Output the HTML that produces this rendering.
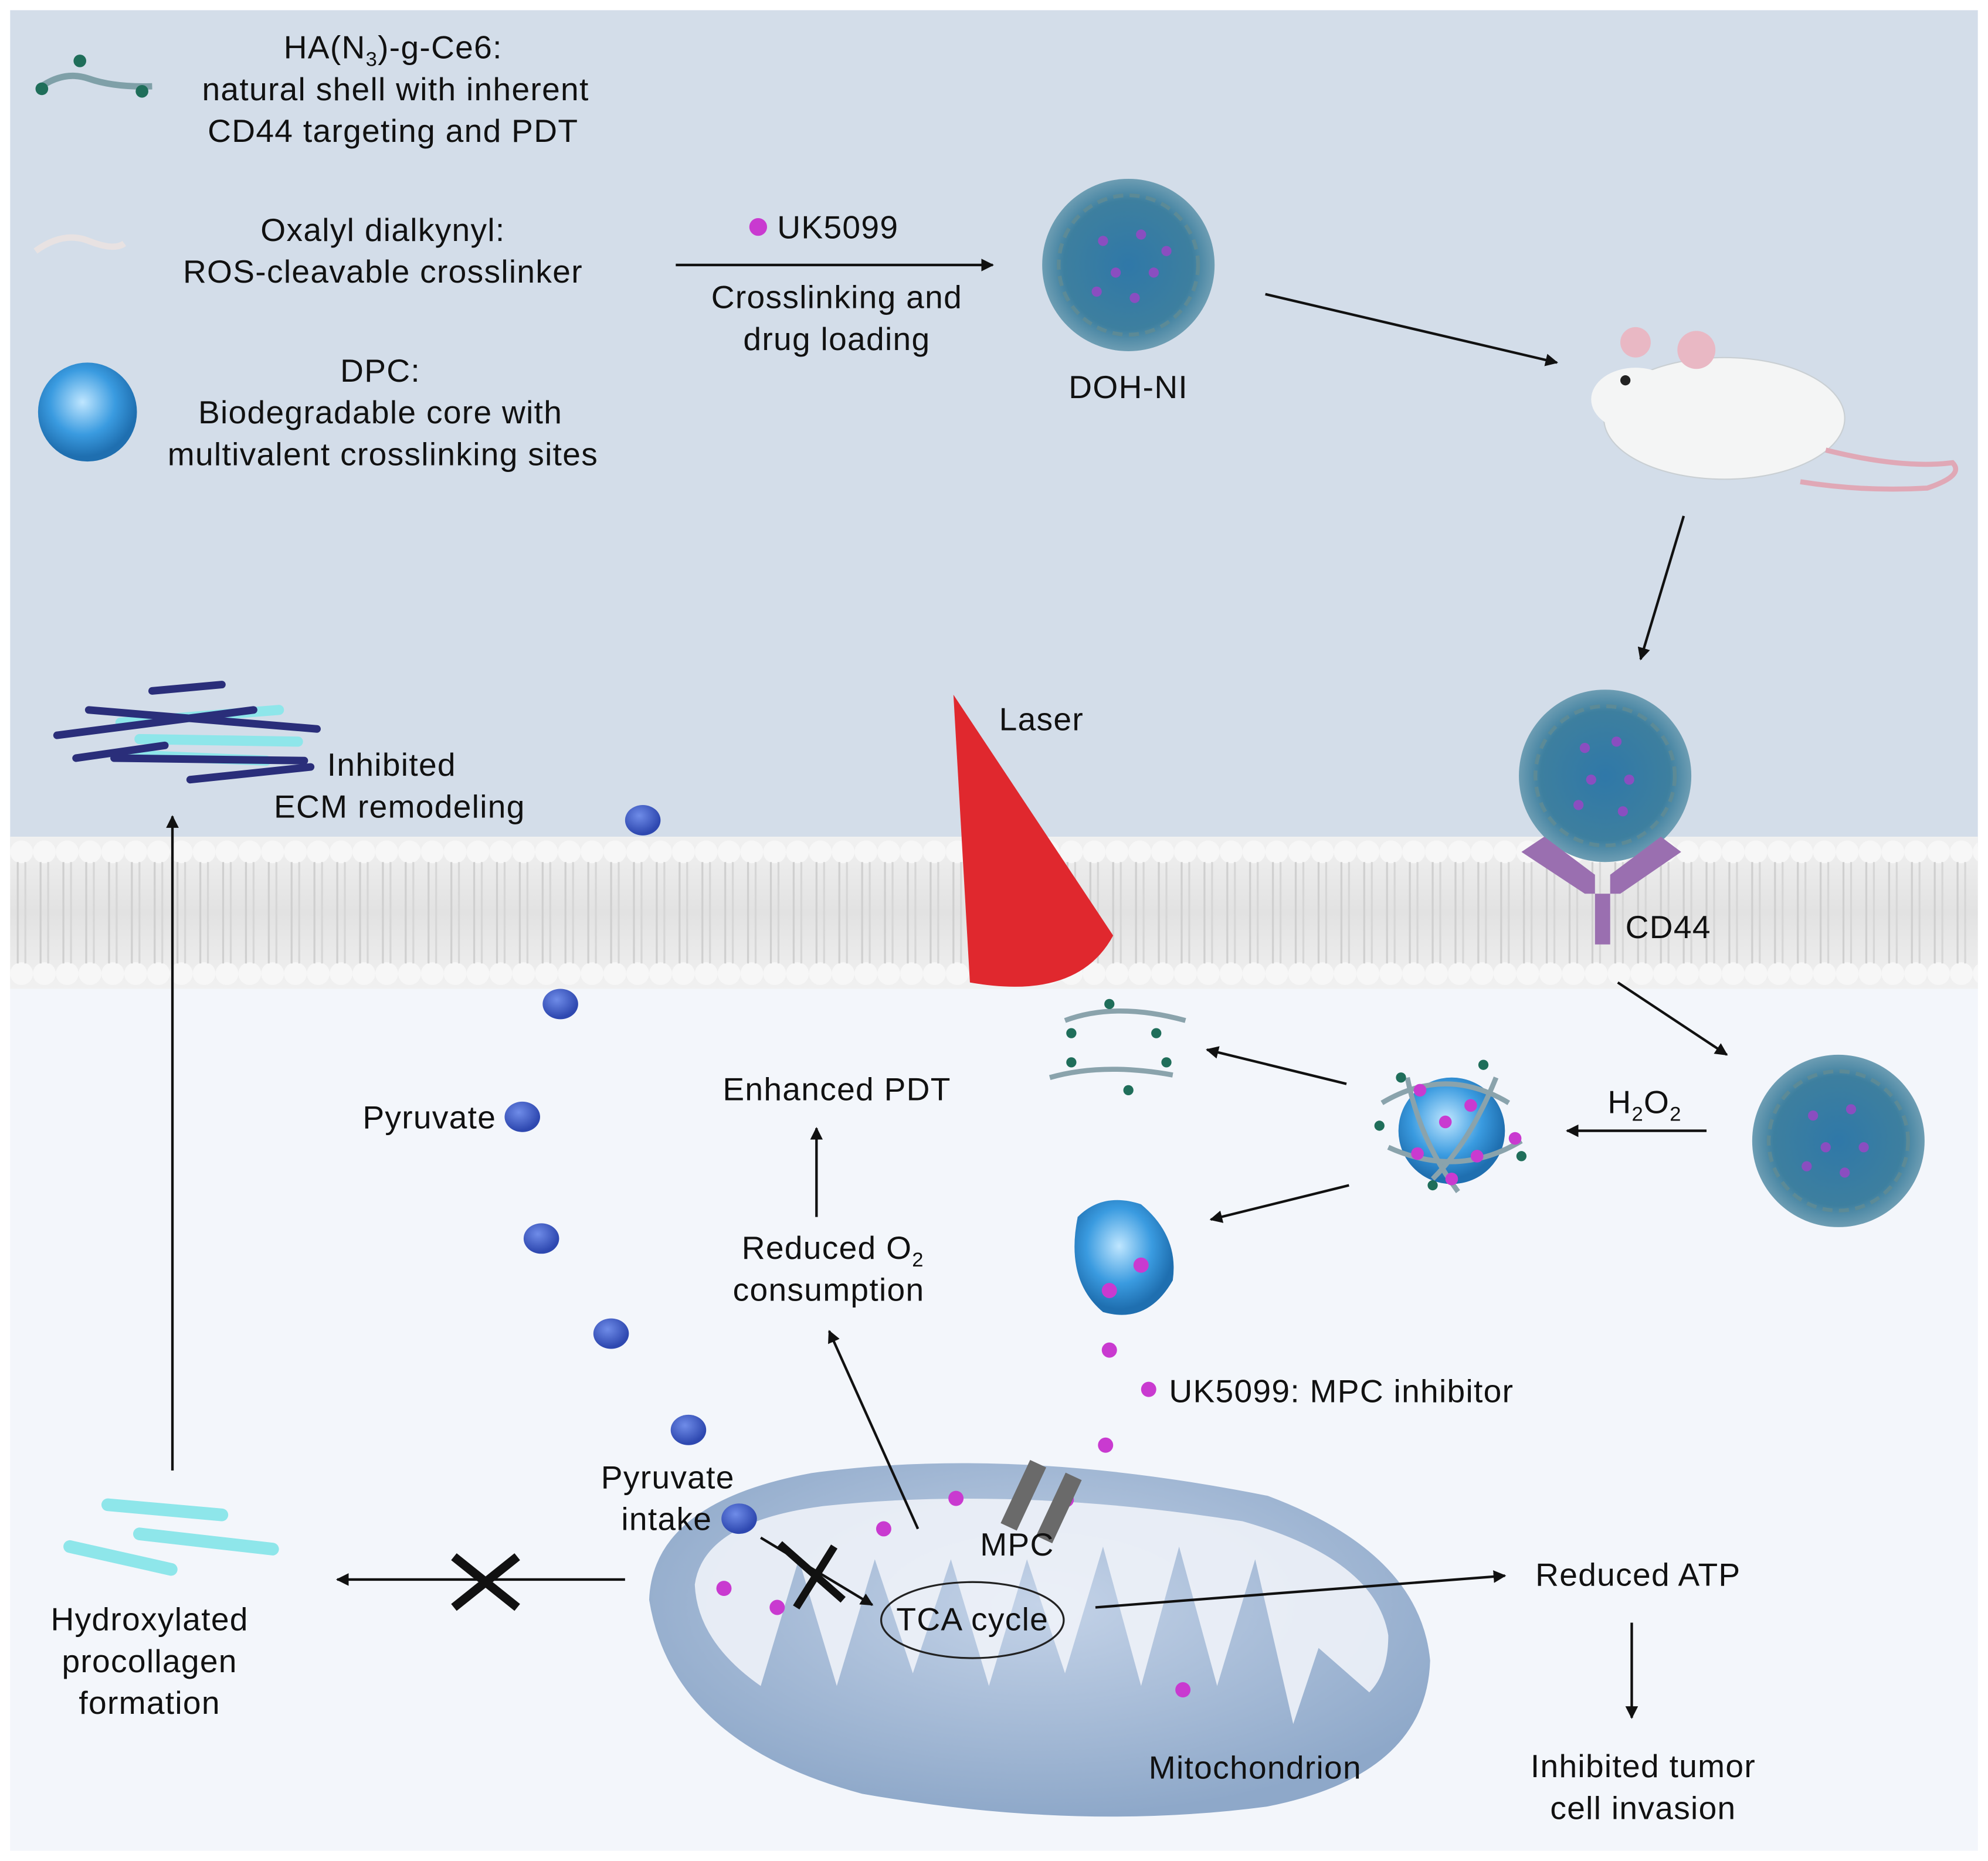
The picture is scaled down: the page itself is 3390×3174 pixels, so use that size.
<!DOCTYPE html>
<html><head><meta charset="utf-8"><style>
html,body{margin:0;padding:0;background:#fff;}
svg{display:block;}
text{font-family:"Liberation Sans",Arial,sans-serif;font-size:25.5px;letter-spacing:0.6px;fill:#111;}
</style></head><body>
<svg width="3390" height="3174" viewBox="0 0 1568 1468" xmlns="http://www.w3.org/2000/svg">
<defs>
<marker id="ah" markerWidth="10" markerHeight="10" refX="9" refY="5" orient="auto" markerUnits="userSpaceOnUse"><path d="M0,0 L10,5 L0,10 z" fill="#111"/></marker>
<radialGradient id="np" cx="50%" cy="50%" r="50%"><stop offset="0" stop-color="#2f78a8"/><stop offset="0.75" stop-color="#3d7f9f"/><stop offset="1" stop-color="#6d9db3"/></radialGradient>
<radialGradient id="dpc" cx="45%" cy="40%" r="55%"><stop offset="0" stop-color="#bfe6ff"/><stop offset="0.6" stop-color="#3a9be0"/><stop offset="1" stop-color="#1f6fb0"/></radialGradient>
<radialGradient id="pyr" cx="40%" cy="35%" r="60%"><stop offset="0" stop-color="#6f8ce8"/><stop offset="1" stop-color="#2e48b0"/></radialGradient>
<linearGradient id="mem" x1="0" y1="0" x2="0" y2="1"><stop offset="0" stop-color="#f1f1f1"/><stop offset="0.5" stop-color="#e2e2e2"/><stop offset="1" stop-color="#f1f1f1"/></linearGradient>
<pattern id="lip" x="8" y="660" width="18" height="120" patternUnits="userSpaceOnUse">
<circle cx="9" cy="12" r="9" fill="#f7f7f7"/>
<circle cx="9" cy="108" r="9" fill="#f7f7f7"/>
<line x1="6" y1="20" x2="6" y2="100" stroke="#cfcfcf" stroke-width="1.5"/>
<line x1="12" y1="20" x2="12" y2="100" stroke="#d6d6d6" stroke-width="1.5"/>
</pattern>
<radialGradient id="mito" cx="50%" cy="40%" r="60%"><stop offset="0" stop-color="#c4d3e8"/><stop offset="1" stop-color="#8ea8c9"/></radialGradient>
</defs>
<rect width="1568" height="1468" fill="#fff"/>
<rect x="8" y="8" width="1552" height="660" fill="#d3dde9"/>
<rect x="8" y="770" width="1552" height="690" fill="#f3f6fb"/>
<rect x="8" y="660" width="1552" height="120" fill="url(#mem)"/>
<rect x="8" y="660" width="1552" height="120" fill="url(#lip)"/>

<!-- legend -->
<path d="M30,70 Q50,55 70,62 T120,68" stroke="#7fa0a8" stroke-width="5" fill="none"/>
<circle cx="33" cy="70" r="5" fill="#1f6e5a"/><circle cx="63" cy="48" r="5" fill="#1f6e5a"/><circle cx="112" cy="72" r="5" fill="#1f6e5a"/>
<text x="310" y="46" text-anchor="middle">HA(N<tspan font-size="16" dy="6">3</tspan><tspan dy="-6">)-g-Ce6:</tspan></text>
<text x="312" y="79" text-anchor="middle">natural shell with inherent</text>
<text x="310" y="112" text-anchor="middle">CD44 targeting and PDT</text>
<path d="M28,198 Q50,182 70,190 T98,192" stroke="#e8e2e2" stroke-width="5" fill="none"/>
<text x="302" y="190" text-anchor="middle">Oxalyl dialkynyl:</text>
<text x="302" y="223" text-anchor="middle">ROS-cleavable crosslinker</text>
<circle cx="69" cy="325" r="39" fill="url(#dpc)"/>
<text x="300" y="301" text-anchor="middle">DPC:</text>
<text x="300" y="334" text-anchor="middle">Biodegradable core with</text>
<text x="302" y="367" text-anchor="middle">multivalent crosslinking sites</text>

<circle cx="598" cy="179" r="7" fill="#c93ad0"/>
<text x="613" y="188">UK5099</text>
<line x1="533" y1="209" x2="783" y2="209" stroke="#111" stroke-width="2" marker-end="url(#ah)"/>
<text x="660" y="243" text-anchor="middle">Crosslinking and</text>
<text x="660" y="276" text-anchor="middle">drug loading</text>

<circle cx="890" cy="209" r="68" fill="url(#np)"/>
<circle cx="890" cy="209" r="55" fill="none" stroke="#5c8a96" stroke-width="3" stroke-dasharray="8 5"/>
<g fill="#8a4ec0"><circle cx="870" cy="190" r="4"/><circle cx="900" cy="185" r="4"/><circle cx="880" cy="215" r="4"/><circle cx="910" cy="215" r="4"/><circle cx="865" cy="230" r="4"/><circle cx="895" cy="235" r="4"/><circle cx="920" cy="198" r="4"/></g>
<text x="890" y="314" text-anchor="middle">DOH-NI</text>
<line x1="998" y1="232" x2="1228" y2="286" stroke="#111" stroke-width="2" marker-end="url(#ah)"/>

<!-- mouse -->
<ellipse cx="1360" cy="330" rx="95" ry="48" fill="#f4f5f5" stroke="#c9cfd3"/>
<ellipse cx="1290" cy="315" rx="35" ry="25" fill="#f4f5f5"/>
<circle cx="1290" cy="270" r="12" fill="#e9b8c4"/><circle cx="1338" cy="276" r="15" fill="#e9b8c4"/>
<circle cx="1282" cy="300" r="4" fill="#222"/>
<path d="M1440,355 Q1500,370 1540,365 Q1550,375 1520,385 Q1470,388 1420,380" stroke="#e0a8b6" stroke-width="4" fill="none"/>
<line x1="1328" y1="407" x2="1294" y2="520" stroke="#111" stroke-width="2" marker-end="url(#ah)"/>

<circle cx="1266" cy="612" r="68" fill="url(#np)"/>
<circle cx="1266" cy="612" r="55" fill="none" stroke="#5c8a96" stroke-width="3" stroke-dasharray="8 5"/>
<g fill="#8a4ec0"><circle cx="1250" cy="590" r="4"/><circle cx="1275" cy="585" r="4"/><circle cx="1255" cy="615" r="4"/><circle cx="1285" cy="615" r="4"/><circle cx="1245" cy="635" r="4"/><circle cx="1280" cy="640" r="4"/></g>
<path d="M1200,672 L1218,660 L1258,690 L1258,745 L1270,745 L1270,690 L1310,660 L1326,672 L1278,705 L1250,705 Z" fill="#9a6fb0"/>
<text x="1282" y="740">CD44</text>
<line x1="1276" y1="775" x2="1362" y2="832" stroke="#111" stroke-width="2" marker-end="url(#ah)"/>
<circle cx="1450" cy="900" r="68" fill="url(#np)"/>
<circle cx="1450" cy="900" r="55" fill="none" stroke="#5c8a96" stroke-width="3" stroke-dasharray="8 5"/>
<g fill="#8a4ec0"><circle cx="1430" cy="880" r="4"/><circle cx="1460" cy="875" r="4"/><circle cx="1440" cy="905" r="4"/><circle cx="1470" cy="905" r="4"/><circle cx="1425" cy="920" r="4"/><circle cx="1455" cy="925" r="4"/></g>
<line x1="1346" y1="892" x2="1236" y2="892" stroke="#111" stroke-width="2" marker-end="url(#ah)"/>
<text x="1268" y="878">H<tspan font-size="16" dy="6">2</tspan><tspan dy="-6">O</tspan><tspan font-size="16" dy="6">2</tspan></text>

<circle cx="1145" cy="892" r="42" fill="url(#dpc)"/>
<g stroke="#8aa3ac" stroke-width="4" fill="none"><path d="M1090,870 Q1140,840 1190,870"/><path d="M1095,905 Q1150,930 1200,900"/><path d="M1110,850 Q1120,900 1150,940"/><path d="M1180,850 Q1160,900 1130,930"/></g>
<g fill="#c93ad0"><circle cx="1120" cy="860" r="5"/><circle cx="1160" cy="872" r="5"/><circle cx="1140" cy="885" r="5"/><circle cx="1195" cy="898" r="5"/><circle cx="1118" cy="910" r="5"/><circle cx="1165" cy="912" r="5"/><circle cx="1145" cy="930" r="5"/></g>
<g fill="#1f6e5a"><circle cx="1105" cy="850" r="4"/><circle cx="1170" cy="840" r="4"/><circle cx="1088" cy="888" r="4"/><circle cx="1200" cy="912" r="4"/><circle cx="1130" cy="935" r="4"/></g>
<line x1="1062" y1="855" x2="952" y2="828" stroke="#111" stroke-width="2" marker-end="url(#ah)"/>
<line x1="1064" y1="935" x2="955" y2="962" stroke="#111" stroke-width="2" marker-end="url(#ah)"/>
<path d="M840,805 Q880,790 935,805" stroke="#8aa3ac" stroke-width="4" fill="none"/>
<path d="M828,850 Q870,838 925,848" stroke="#8aa3ac" stroke-width="4" fill="none"/>
<g fill="#1f6e5a"><circle cx="845" cy="815" r="4"/><circle cx="875" cy="792" r="4"/><circle cx="912" cy="815" r="4"/><circle cx="845" cy="838" r="4"/><circle cx="890" cy="860" r="4"/><circle cx="920" cy="838" r="4"/></g>
<path d="M850,960 Q870,940 900,950 Q930,975 925,1010 Q905,1045 870,1035 Q840,1010 850,960 Z" fill="url(#dpc)"/>
<circle cx="900" cy="998" r="6" fill="#c93ad0"/><circle cx="875" cy="1018" r="6" fill="#c93ad0"/>
<circle cx="875" cy="1065" r="6" fill="#c93ad0"/><circle cx="906" cy="1096" r="6" fill="#c93ad0"/>
<text x="922" y="1106">UK5099: MPC inhibitor</text>
<circle cx="872" cy="1140" r="6" fill="#c93ad0"/>

<path d="M752,548 L878,738 Q850,790 765,775 Z" fill="#e0282e"/>
<text x="788" y="576">Laser</text>

<g stroke="#8ee6ea" stroke-width="8" stroke-linecap="round"><line x1="95" y1="570" x2="220" y2="560"/><line x1="90" y1="595" x2="210" y2="600"/><line x1="110" y1="583" x2="235" y2="585"/></g>
<g stroke="#2a2e7a" stroke-width="6" stroke-linecap="round"><line x1="45" y1="580" x2="200" y2="560"/><line x1="70" y1="560" x2="250" y2="575"/><line x1="90" y1="598" x2="240" y2="600"/><line x1="120" y1="545" x2="175" y2="540"/><line x1="150" y1="615" x2="245" y2="605"/><line x1="60" y1="598" x2="130" y2="588"/></g>
<text x="258" y="612">Inhibited</text>
<text x="216" y="645">ECM remodeling</text>
<line x1="136" y1="1160" x2="136" y2="644" stroke="#111" stroke-width="2" marker-end="url(#ah)"/>

<!-- mitochondrion -->
<path d="M512,1262 Q515,1185 640,1162 Q800,1140 1000,1180 Q1120,1225 1128,1310 Q1125,1400 1000,1425 Q850,1445 680,1415 Q530,1375 512,1262 Z" fill="url(#mito)"/>
<path d="M548,1250 Q555,1200 650,1188 Q800,1172 980,1200 Q1085,1230 1095,1290 Q1095,1320 1080,1335 L1040,1300 L1020,1360 L990,1230 L960,1330 L930,1220 L900,1330 L870,1220 L840,1320 L810,1230 L780,1330 L750,1230 L720,1320 L690,1230 L660,1330 L630,1230 L600,1330 Q550,1295 548,1250 Z" fill="#eef2f8" opacity="0.9"/>
<g fill="#c93ad0"><circle cx="754" cy="1182" r="6"/><circle cx="697" cy="1206" r="6"/><circle cx="571" cy="1253" r="6"/><circle cx="613" cy="1268" r="6"/><circle cx="933" cy="1333" r="6"/><circle cx="841" cy="1183" r="6"/></g>
<g fill="#6a6a6a"><rect x="800" y="1152" width="14" height="55" transform="rotate(25 807 1180)"/><rect x="828" y="1162" width="14" height="55" transform="rotate(25 835 1190)"/></g>
<text x="773" y="1227">MPC</text>

<g fill="url(#pyr)"><ellipse cx="507" cy="647" rx="14" ry="12"/><ellipse cx="442" cy="792" rx="14" ry="12"/><ellipse cx="412" cy="881" rx="14" ry="12"/><ellipse cx="427" cy="977" rx="14" ry="12"/><ellipse cx="482" cy="1052" rx="14" ry="12"/><ellipse cx="543" cy="1128" rx="14" ry="12"/><ellipse cx="583" cy="1198" rx="14" ry="12"/></g>
<text x="286" y="890">Pyruvate</text>
<text x="474" y="1174">Pyruvate</text>
<text x="490" y="1207">intake</text>

<text x="570" y="868">Enhanced PDT</text>
<line x1="644" y1="960" x2="644" y2="890" stroke="#111" stroke-width="2" marker-end="url(#ah)"/>
<text x="585" y="993">Reduced O<tspan font-size="16" dy="6">2</tspan></text>
<text x="578" y="1026">consumption</text>
<line x1="724" y1="1206" x2="654" y2="1050" stroke="#111" stroke-width="2" marker-end="url(#ah)"/>

<g stroke="#8ee6ea" stroke-width="10" stroke-linecap="round"><line x1="85" y1="1187" x2="175" y2="1195"/><line x1="110" y1="1210" x2="215" y2="1222"/><line x1="55" y1="1220" x2="135" y2="1238"/></g>
<text x="118" y="1286" text-anchor="middle">Hydroxylated</text>
<text x="118" y="1319" text-anchor="middle">procollagen</text>
<text x="118" y="1352" text-anchor="middle">formation</text>
<line x1="493" y1="1246" x2="266" y2="1246" stroke="#111" stroke-width="2" marker-end="url(#ah)"/>
<path d="M358,1228 L408,1268 M408,1228 L358,1268" stroke="#111" stroke-width="7"/>

<line x1="600" y1="1213" x2="688" y2="1266" stroke="#111" stroke-width="2" marker-end="url(#ah)"/>
<path d="M615,1218 L665,1262 M658,1220 L628,1268" stroke="#111" stroke-width="6"/>
<ellipse cx="767" cy="1278" rx="72" ry="30" fill="none" stroke="#222" stroke-width="1.5"/>
<text x="767" y="1286" text-anchor="middle">TCA cycle</text>
<line x1="864" y1="1268" x2="1187" y2="1243" stroke="#111" stroke-width="2" marker-end="url(#ah)"/>
<text x="1211" y="1251">Reduced ATP</text>
<line x1="1287" y1="1280" x2="1287" y2="1355" stroke="#111" stroke-width="2" marker-end="url(#ah)"/>
<text x="1296" y="1402" text-anchor="middle">Inhibited tumor</text>
<text x="1296" y="1435" text-anchor="middle">cell invasion</text>
<text x="990" y="1403" text-anchor="middle">Mitochondrion</text>
</svg>
</body></html>
